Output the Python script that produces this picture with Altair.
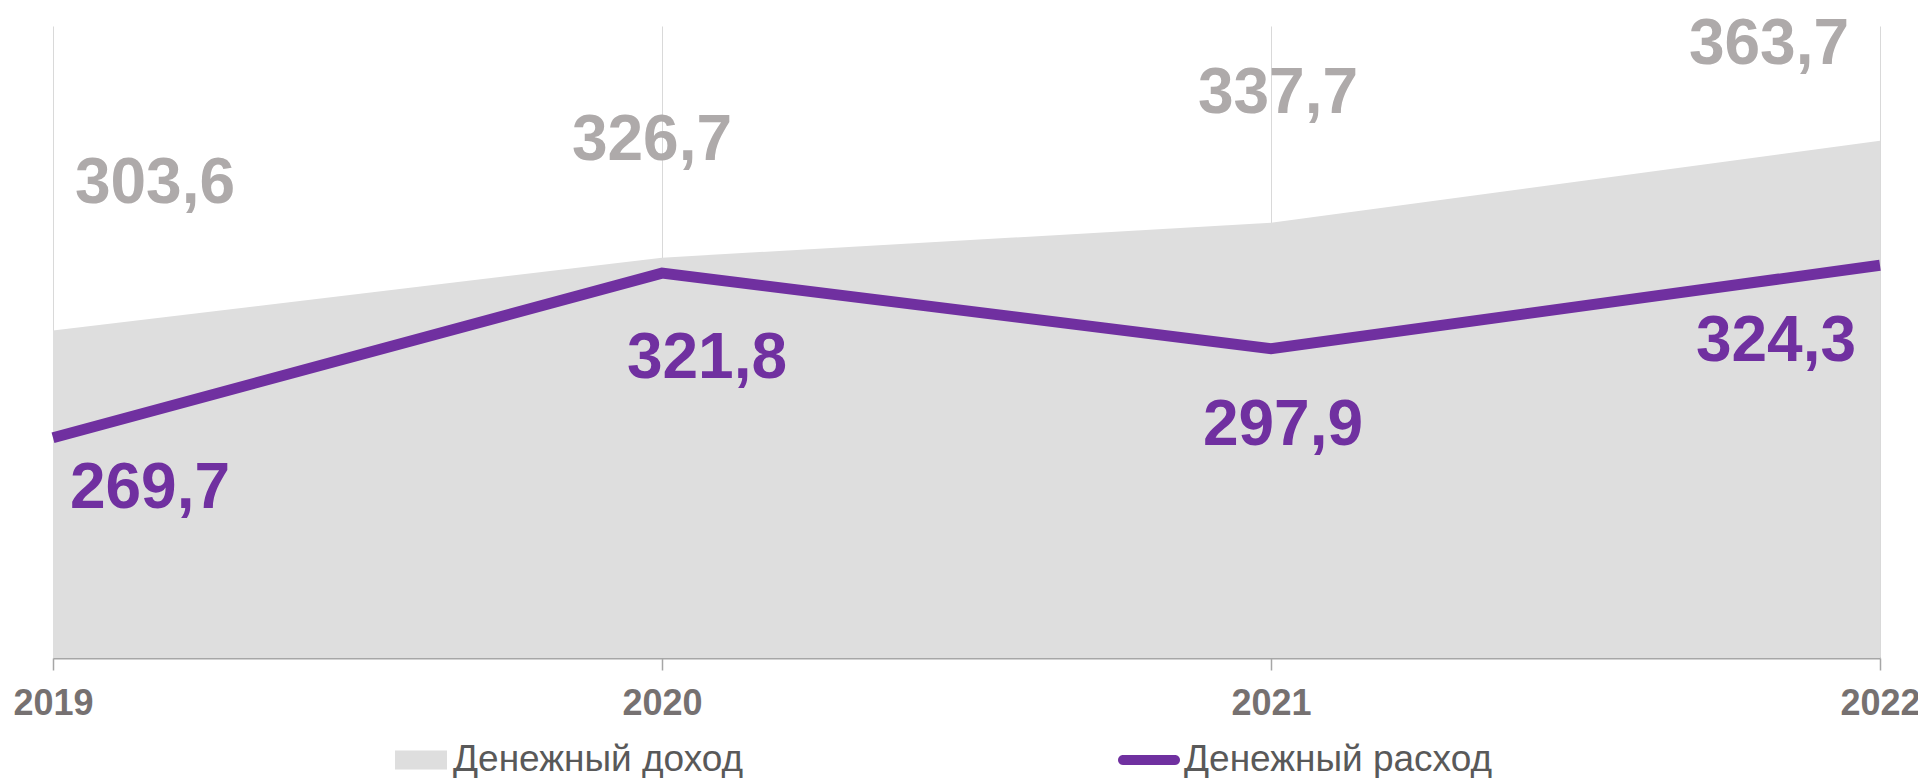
import altair as alt
import pandas as pd

# ---- data ----
years = [2019, 2020, 2021, 2022]
income = [303.6, 326.7, 337.7, 363.7]     # Денежный доход
expense = [269.7, 321.8, 297.9, 324.3]    # Денежный расход
series_names = ["Денежный доход", "Денежный расход"]
x_ticks = [2019, 2020, 2021, 2022]


def fmt(v):
    return f"{v:.1f}".replace(".", ",")


inc_df = pd.DataFrame({"year": years, "value": income,
                       "series": series_names[0],
                       "label": [fmt(v) for v in income]})
exp_df = pd.DataFrame({"year": years, "value": expense,
                       "series": series_names[1],
                       "label": [fmt(v) for v in expense]})

# ---- styles ----
FONT = "Liberation Sans"
C_AREA = "#DEDEDE"
C_LINE = "#7030A0"
C_INC_LBL = "#AEAAAA"
C_AXIS_LBL = "#767171"
C_LEG_LBL = "#595959"

inc_offsets = [(102, -147), (-10, -117), (7, -129), (-111, -96)]
exp_offsets = [(97, 51), (45, 86), (12, 77), (-104, 77)]

x_enc = alt.X(
    "year:Q",
    scale=alt.Scale(domain=[2019, 2022], nice=False, zero=False),
    axis=alt.Axis(
        values=x_ticks, format="d", title=None,
        grid=True, gridColor="#D9D9D9", gridWidth=1,
        domainColor="#A6A6A6", domainWidth=2,
        tickColor="#A6A6A6", tickWidth=1.5, tickSize=12,
        labelFont=FONT, labelFontSize=36, labelFontWeight="bold",
        labelColor=C_AXIS_LBL, labelPadding=16,
        labelFlush=False, labelOverlap=False,
    ),
)
y_enc = alt.Y("value:Q",
              scale=alt.Scale(domain=[200, 400], nice=False, zero=False),
              axis=None)

rect_path = "M-1,-0.365L1,-0.365L1,0.365L-1,0.365Z"
pill_path = ("M-0.839,-0.161L0.839,-0.161A0.161,0.161 0 0 1 0.839,0.161"
             "L-0.839,0.161A0.161,0.161 0 0 1 -0.839,-0.161Z")

area = alt.Chart(inc_df).mark_area(color=C_AREA).encode(
    x=x_enc, y=y_enc, y2=alt.datum(200),
    fill=alt.Fill(
        "series:N",
        scale=alt.Scale(domain=[series_names[0]], range=[C_AREA]),
        legend=alt.Legend(
            title=None, orient="none", legendX=342, legendY=708,
            symbolType=rect_path, symbolSize=2704, symbolStrokeWidth=0,
            labelFont=FONT, labelFontSize=37, labelColor=C_LEG_LBL,
            labelOffset=6, labelLimit=800, padding=0,
        ),
    ),
)

line = alt.Chart(exp_df).mark_line(strokeWidth=11, strokeCap="butt").encode(
    x=x_enc, y=y_enc,
    stroke=alt.Stroke(
        "series:N",
        scale=alt.Scale(domain=[series_names[1]], range=[C_LINE]),
        legend=alt.Legend(
            title=None, orient="none", legendX=1065, legendY=703,
            symbolType=pill_path, symbolSize=3844, symbolStrokeWidth=0,
            symbolFillColor=C_LINE,
            labelFont=FONT, labelFontSize=37, labelColor=C_LEG_LBL,
            labelOffset=4, labelLimit=800, padding=0,
        ),
    ),
)

texts = []
for df, offs, col in [(inc_df, inc_offsets, C_INC_LBL), (exp_df, exp_offsets, C_LINE)]:
    for yr, (dx, dy) in zip(years, offs):
        t = alt.Chart(df).transform_filter(alt.datum.year == yr).mark_text(
            dx=dx, dy=dy, align="center", baseline="middle",
            font=FONT, fontSize=64, fontWeight="bold", color=col,
        ).encode(x=x_enc, y=y_enc, text="label:N")
        texts.append(t)

chart = alt.layer(area, line, *texts).properties(
    width=1827, height=632,
    autosize=alt.AutoSizeParams(type="none"),
    padding={"left": 45, "top": 18, "right": 38, "bottom": 120},
).configure_view(stroke=None)

chart.save("out.html", embed_options={"renderer": "svg", "actions": False})
